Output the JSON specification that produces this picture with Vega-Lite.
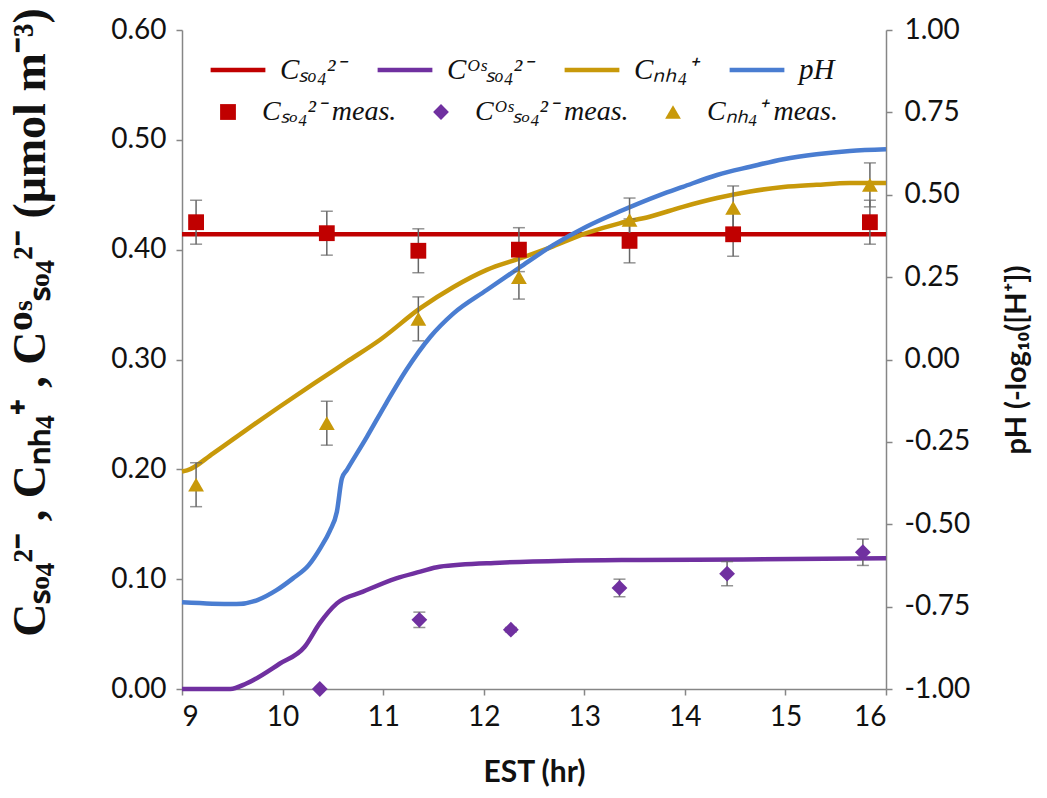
{
  "$schema": "https://vega.github.io/schema/vega-lite/v6.json",
  "width": 704,
  "height": 659,
  "autosize": "none",
  "padding": {"left": 182, "top": 30, "right": 161, "bottom": 109},
  "background": "white",
  "config": {
    "view": {"stroke": null},
    "axis": {
      "grid": false,
      "domainColor": "#868686",
      "tickColor": "#868686",
      "domainWidth": 1.5,
      "tickWidth": 1.5,
      "tickSize": 6,
      "labelFont": "Lato",
      "labelFontSize": 28,
      "labelColor": "#111111",
      "titleColor": "#111111"
    }
  },
  "datasets": {
    "lines": [
      {"series": "Cₛₒ₄²⁻", "t": 9.0, "v": 0.414},
      {"series": "Cₛₒ₄²⁻", "t": 16.0, "v": 0.414},
      {"series": "Cᴼˢₛₒ₄²⁻", "t": 9.0, "v": 0.0},
      {"series": "Cᴼˢₛₒ₄²⁻", "t": 9.48, "v": 0.0},
      {"series": "Cᴼˢₛₒ₄²⁻", "t": 9.64, "v": 0.005},
      {"series": "Cᴼˢₛₒ₄²⁻", "t": 9.97, "v": 0.023},
      {"series": "Cᴼˢₛₒ₄²⁻", "t": 10.22, "v": 0.0385},
      {"series": "Cᴼˢₛₒ₄²⁻", "t": 10.37, "v": 0.06},
      {"series": "Cᴼˢₛₒ₄²⁻", "t": 10.54, "v": 0.078},
      {"series": "Cᴼˢₛₒ₄²⁻", "t": 10.8, "v": 0.0886},
      {"series": "Cᴼˢₛₒ₄²⁻", "t": 11.13, "v": 0.1008},
      {"series": "Cᴼˢₛₒ₄²⁻", "t": 11.37, "v": 0.1068},
      {"series": "Cᴼˢₛₒ₄²⁻", "t": 11.56, "v": 0.1114},
      {"series": "Cᴼˢₛₒ₄²⁻", "t": 12.16, "v": 0.115},
      {"series": "Cᴼˢₛₒ₄²⁻", "t": 12.82, "v": 0.1168},
      {"series": "Cᴼˢₛₒ₄²⁻", "t": 13.55, "v": 0.1175},
      {"series": "Cᴼˢₛₒ₄²⁻", "t": 14.58, "v": 0.118},
      {"series": "Cᴼˢₛₒ₄²⁻", "t": 16.0, "v": 0.119},
      {"series": "Cₙₕ₄⁺", "t": 9.0, "v": 0.198},
      {"series": "Cₙₕ₄⁺", "t": 9.05, "v": 0.199},
      {"series": "Cₙₕ₄⁺", "t": 9.31, "v": 0.2146},
      {"series": "Cₙₕ₄⁺", "t": 9.64, "v": 0.236},
      {"series": "Cₙₕ₄⁺", "t": 9.97, "v": 0.257},
      {"series": "Cₙₕ₄⁺", "t": 10.31, "v": 0.278},
      {"series": "Cₙₕ₄⁺", "t": 10.64, "v": 0.298},
      {"series": "Cₙₕ₄⁺", "t": 10.97, "v": 0.318},
      {"series": "Cₙₕ₄⁺", "t": 11.37, "v": 0.3467},
      {"series": "Cₙₕ₄⁺", "t": 11.7, "v": 0.366},
      {"series": "Cₙₕ₄⁺", "t": 12.03, "v": 0.3816},
      {"series": "Cₙₕ₄⁺", "t": 12.36, "v": 0.392},
      {"series": "Cₙₕ₄⁺", "t": 12.69, "v": 0.403},
      {"series": "Cₙₕ₄⁺", "t": 13.02, "v": 0.415},
      {"series": "Cₙₕ₄⁺", "t": 13.35, "v": 0.424},
      {"series": "Cₙₕ₄⁺", "t": 13.65, "v": 0.43},
      {"series": "Cₙₕ₄⁺", "t": 13.98, "v": 0.439},
      {"series": "Cₙₕ₄⁺", "t": 14.32, "v": 0.447},
      {"series": "Cₙₕ₄⁺", "t": 14.65, "v": 0.453},
      {"series": "Cₙₕ₄⁺", "t": 14.98, "v": 0.457},
      {"series": "Cₙₕ₄⁺", "t": 15.31, "v": 0.459},
      {"series": "Cₙₕ₄⁺", "t": 15.64, "v": 0.4606},
      {"series": "Cₙₕ₄⁺", "t": 16.0, "v": 0.4606}
    ],
    "ph": [
      {"series": "pH", "t": 9.0, "ph": -0.737},
      {"series": "pH", "t": 9.3, "ph": -0.741},
      {"series": "pH", "t": 9.54, "ph": -0.742},
      {"series": "pH", "t": 9.75, "ph": -0.73},
      {"series": "pH", "t": 9.94, "ph": -0.7},
      {"series": "pH", "t": 10.1, "ph": -0.665},
      {"series": "pH", "t": 10.26, "ph": -0.624},
      {"series": "pH", "t": 10.38, "ph": -0.57},
      {"series": "pH", "t": 10.47, "ph": -0.52},
      {"series": "pH", "t": 10.54, "ph": -0.462},
      {"series": "pH", "t": 10.59, "ph": -0.361},
      {"series": "pH", "t": 10.64, "ph": -0.335},
      {"series": "pH", "t": 10.84, "ph": -0.234},
      {"series": "pH", "t": 11.03, "ph": -0.133},
      {"series": "pH", "t": 11.23, "ph": -0.032},
      {"series": "pH", "t": 11.47, "ph": 0.069},
      {"series": "pH", "t": 11.7, "ph": 0.14},
      {"series": "pH", "t": 12.03, "ph": 0.211},
      {"series": "pH", "t": 12.36, "ph": 0.28},
      {"series": "pH", "t": 12.69, "ph": 0.347},
      {"series": "pH", "t": 13.02, "ph": 0.403},
      {"series": "pH", "t": 13.35, "ph": 0.449},
      {"series": "pH", "t": 13.75, "ph": 0.499},
      {"series": "pH", "t": 13.98, "ph": 0.524},
      {"series": "pH", "t": 14.32, "ph": 0.56},
      {"series": "pH", "t": 14.65, "ph": 0.585},
      {"series": "pH", "t": 14.98, "ph": 0.608},
      {"series": "pH", "t": 15.31, "ph": 0.623},
      {"series": "pH", "t": 15.64, "ph": 0.633},
      {"series": "pH", "t": 16.0, "ph": 0.638}
    ],
    "meas": [
      {"meas": "Cₛₒ₄²⁻ meas.", "t": 9.14, "v": 0.425, "err": 0.02},
      {"meas": "Cₛₒ₄²⁻ meas.", "t": 10.44, "v": 0.415, "err": 0.02},
      {"meas": "Cₛₒ₄²⁻ meas.", "t": 11.35, "v": 0.399, "err": 0.02},
      {"meas": "Cₛₒ₄²⁻ meas.", "t": 12.35, "v": 0.4, "err": 0.02},
      {"meas": "Cₛₒ₄²⁻ meas.", "t": 13.45, "v": 0.408, "err": 0.02},
      {"meas": "Cₛₒ₄²⁻ meas.", "t": 14.48, "v": 0.414, "err": 0.02},
      {"meas": "Cₛₒ₄²⁻ meas.", "t": 15.84, "v": 0.425, "err": 0.02},
      {"meas": "Cᴼˢₛₒ₄²⁻ meas.", "t": 10.37, "v": 0.0, "err": 0.0},
      {"meas": "Cᴼˢₛₒ₄²⁻ meas.", "t": 11.36, "v": 0.063, "err": 0.007},
      {"meas": "Cᴼˢₛₒ₄²⁻ meas.", "t": 12.27, "v": 0.054, "err": 0.002},
      {"meas": "Cᴼˢₛₒ₄²⁻ meas.", "t": 13.35, "v": 0.092, "err": 0.008},
      {"meas": "Cᴼˢₛₒ₄²⁻ meas.", "t": 14.42, "v": 0.105, "err": 0.011},
      {"meas": "Cᴼˢₛₒ₄²⁻ meas.", "t": 15.77, "v": 0.1245, "err": 0.012},
      {"meas": "Cₙₕ₄⁺ meas.", "t": 9.14, "v": 0.186, "err": 0.02},
      {"meas": "Cₙₕ₄⁺ meas.", "t": 10.44, "v": 0.242, "err": 0.02},
      {"meas": "Cₙₕ₄⁺ meas.", "t": 11.35, "v": 0.337, "err": 0.02},
      {"meas": "Cₙₕ₄⁺ meas.", "t": 12.35, "v": 0.375, "err": 0.02},
      {"meas": "Cₙₕ₄⁺ meas.", "t": 13.45, "v": 0.427, "err": 0.02},
      {"meas": "Cₙₕ₄⁺ meas.", "t": 14.48, "v": 0.438, "err": 0.02},
      {"meas": "Cₙₕ₄⁺ meas.", "t": 15.84, "v": 0.459, "err": 0.02}
    ]
  },
  "encoding": {
    "x": {
      "field": "t",
      "type": "quantitative",
      "scale": {"domain": [9, 16], "nice": false, "zero": false},
      "axis": {
        "values": [9, 10, 11, 12, 13, 14, 15, 16],
        "labelPadding": 8,
        "title": "EST (hr)",
        "titleFont": "Lato",
        "titleFontSize": 30,
        "titleFontWeight": "bold",
        "titlePadding": 26
      }
    }
  },
  "layer": [
    {
      "data": {"name": "lines"},
      "mark": {"type": "line", "strokeWidth": 4.5, "interpolate": "monotone"},
      "encoding": {
        "y": {
          "field": "v",
          "type": "quantitative",
          "scale": {"domain": [0, 0.6], "nice": false},
          "axis": {
            "orient": "left",
            "values": [0, 0.1, 0.2, 0.3, 0.4, 0.5, 0.6],
            "format": ".2f",
            "labelPadding": 10,
            "title": "Cₛₒ₄²⁻ , Cₙₕ₄⁺ , Cᴼˢₛₒ₄²⁻ (μmol m⁻³)",
            "titleFont": "Liberation Serif",
            "titleFontSize": 46,
            "titleFontWeight": "bold",
            "titlePadding": 56,
            "titleY": 292
          }
        },
        "stroke": {
          "field": "series",
          "type": "nominal",
          "scale": {
            "domain": ["Cₛₒ₄²⁻", "Cᴼˢₛₒ₄²⁻", "Cₙₕ₄⁺", "pH"],
            "range": ["#C00000", "#7030A0", "#C8990A", "#4A7DD1"]
          },
          "legend": {
            "orient": "none",
            "legendX": 26,
            "legendY": 10,
            "direction": "horizontal",
            "title": null,
            "symbolType": "stroke",
            "symbolSize": 3000,
            "symbolStrokeWidth": 4.5,
            "labelFont": "Liberation Serif",
            "labelFontStyle": "italic",
            "labelFontSize": 29,
            "labelColor": "#111111",
            "labelOffset": 12,
            "labelLimit": 300,
            "columnPadding": 22
          }
        }
      }
    },
    {
      "data": {"name": "ph"},
      "mark": {"type": "line", "strokeWidth": 4.5, "interpolate": "monotone"},
      "encoding": {
        "y": {
          "field": "ph",
          "type": "quantitative",
          "scale": {"domain": [-1, 1], "nice": false},
          "axis": {
            "orient": "right",
            "values": [-1, -0.75, -0.5, -0.25, 0, 0.25, 0.5, 0.75, 1],
            "labelExpr": "replace(format(datum.value, '.2f'), '−', '-')",
            "labelPadding": 12,
            "title": "pH (-log₁₀([H⁺])",
            "titleAngle": -90,
            "titleFont": "Lato",
            "titleFontSize": 29,
            "titleFontWeight": "bold",
            "titlePadding": 62
          }
        },
        "stroke": {"field": "series", "type": "nominal"}
      }
    },
    {
      "data": {"name": "meas"},
      "layer": [
        {
          "mark": {
            "type": "errorbar",
            "thickness": 1.5,
            "color": "#666666",
            "ticks": {"size": 12, "color": "#666666"}
          },
          "encoding": {
            "y": {
              "field": "v",
              "type": "quantitative",
              "scale": {"domain": [0, 0.6], "nice": false},
              "axis": null
            },
            "yError": {"field": "err"}
          }
        },
        {
          "mark": {"type": "point", "filled": true, "size": 250, "opacity": 1},
          "encoding": {
            "y": {"field": "v", "type": "quantitative", "axis": null},
            "shape": {
              "field": "meas",
              "type": "nominal",
              "scale": {
                "domain": ["Cₛₒ₄²⁻ meas.", "Cᴼˢₛₒ₄²⁻ meas.", "Cₙₕ₄⁺ meas."],
                "range": ["square", "diamond", "triangle-up"]
              },
              "legend": {
                "orient": "none",
                "legendX": 32,
                "legendY": 68,
                "direction": "horizontal",
                "title": null,
                "symbolSize": 250,
                "labelFont": "Liberation Serif",
                "labelFontStyle": "italic",
                "labelFontSize": 28,
                "labelColor": "#111111",
                "labelOffset": 20,
                "labelLimit": 300,
                "columnPadding": 30
              }
            },
            "color": {
              "field": "meas",
              "type": "nominal",
              "scale": {
                "domain": ["Cₛₒ₄²⁻ meas.", "Cᴼˢₛₒ₄²⁻ meas.", "Cₙₕ₄⁺ meas."],
                "range": ["#C00000", "#7030A0", "#C8990A"]
              },
              "legend": {
                "orient": "none",
                "legendX": 32,
                "legendY": 68,
                "direction": "horizontal",
                "title": null,
                "symbolSize": 250,
                "labelFont": "Liberation Serif",
                "labelFontStyle": "italic",
                "labelFontSize": 28,
                "labelColor": "#111111",
                "labelOffset": 20,
                "labelLimit": 300,
                "columnPadding": 30
              }
            }
          }
        }
      ]
    }
  ],
  "resolve": {"scale": {"y": "independent"}}
}
